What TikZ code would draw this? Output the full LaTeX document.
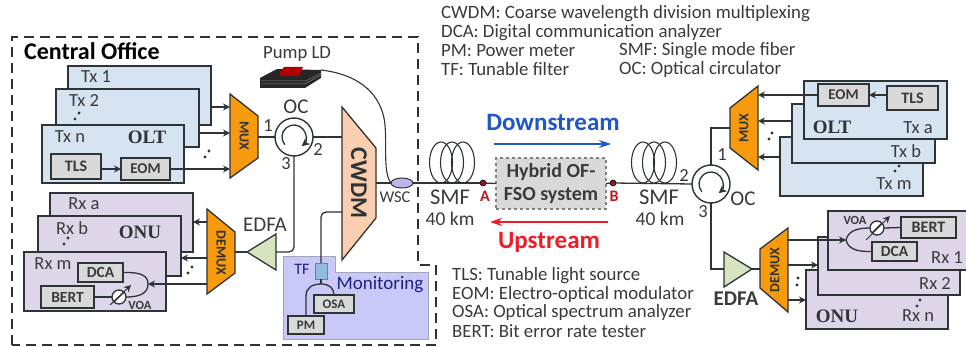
\documentclass[tikz,border=0pt]{standalone}
\usepackage{fontspec}
\setmainfont{Carlito}
\newfontfamily\olt{Liberation Serif}
\usetikzlibrary{arrows.meta,shapes.geometric}
\definecolor{ink}{HTML}{2E3336}
\definecolor{txt}{HTML}{3A3A3A}
\definecolor{txf}{HTML}{D6E3F0}
\definecolor{rxf}{HTML}{DDD6E9}
\definecolor{gbox}{HTML}{D9D9D9}
\definecolor{mux}{HTML}{F79A0E}
\definecolor{amp}{HTML}{D6E4C0}
\definecolor{cw}{HTML}{F9CFB0}
\definecolor{mon}{HTML}{C9C9F8}
\definecolor{tff}{HTML}{8FBBE0}
\definecolor{dred}{HTML}{8E1B22}
\definecolor{dsb}{HTML}{1F56C8}
\definecolor{usr}{HTML}{EE1C24}
\tikzset{
  line/.style={draw=ink,line width=1.3pt},
  arr/.style={line,-{Stealth[length=7pt,width=7pt]}},
  card/.style={draw=ink,line width=1.4pt,anchor=north west,inner sep=0pt,outer sep=0pt},
  txcard/.style={card,fill=txf},
  rxcard/.style={card,fill=rxf},
  gb/.style={draw=ink,line width=1.4pt,fill=gbox,anchor=north west,inner sep=0pt,outer sep=0pt,text=txt,font=\fontsize{16}{16}\selectfont\bfseries},
  lab/.style={text=txt,inner sep=0pt,font=\fontsize{18.5}{18.5}\selectfont},
  leg/.style={text=txt,inner sep=0pt,anchor=west,font=\fontsize{18.8}{18.8}\selectfont},
  big/.style={text=txt,inner sep=0pt,font=\fontsize{22.5}{22.5}\selectfont},
  oltf/.style={text=ink,inner sep=0pt,font=\fontsize{19}{19}\selectfont\olt\bfseries},
  muxf/.style={draw=ink,line width=1.3pt,fill=mux},
  muxt/.style={text=ink,inner sep=0pt,font=\fontsize{14}{14}\selectfont\bfseries},
  ampf/.style={draw=ink,line width=1.3pt,fill=amp},
  circ/.style={circle,draw=ink,line width=1.4pt,minimum size=38pt,inner sep=0pt,outer sep=0pt},
  voa/.style={circle,draw=ink,line width=1.3pt,fill=white,minimum size=14pt,inner sep=0pt,outer sep=0pt},
  tap/.style={circle,fill=dred,draw=black,line width=.6pt,minimum size=6pt,inner sep=0pt,outer sep=0pt},
  spin/.style={line,-{Stealth[length=8pt,width=8pt]}},
  coil/.style={ellipse,draw=ink,line width=1.1pt,minimum width=23pt,minimum height=41pt,inner sep=0pt},
}
\newcommand{\dotsup}[2]{\fill[ink] (#1,#2) circle (1.7pt) ++(4,-6) circle (1.7pt);}
\begin{document}
\begin{tikzpicture}[x=1pt,y=-1pt]
\useasboundingbox (0,0) rectangle (966,347);
% Central office border
\draw[ink,line width=1.4pt,dash pattern=on 10pt off 6pt] (12,345) -- (12,37) -- (418,37) -- (418,265) -- (436,265) -- (436,345) -- cycle;
\node[inner sep=0pt,anchor=west,text=black,font=\fontsize{24}{24}\selectfont\bfseries] (co) at (24,51) {Central Office};
% legends
\node[leg] (l1) at (441,14) {CWDM: Coarse wavelength division multiplexing};
\node[leg] (l2) at (441,33) {DCA: Digital communication analyzer};
\node[leg] (l3) at (441,51) {PM: Power meter};
\node[leg] (l4) at (441,69) {TF: Tunable filter};
\node[leg] (l5) at (619,51) {SMF: Single mode fiber};
\node[leg] (l6) at (619,69) {OC: Optical circulator};
\node[leg] (l7) at (452,276) {TLS: Tunable light source};
\node[leg] (l8) at (452,294) {EOM: Electro-optical modulator};
\node[leg] (l9) at (452,312) {OSA: Optical spectrum analyzer};
\node[leg] (l10) at (452,331) {BERT: Bit error rate tester};
% Left Tx cards
\node[txcard,minimum width=143pt,minimum height=59pt] (tx1) at (68,66) {};
\node[txcard,minimum width=143pt,minimum height=58pt] (tx2) at (56,89) {};
\node[txcard,minimum width=142pt,minimum height=58pt] (txn) at (42,125) {};
\node[lab] (tx1t) at (96,77) {Tx 1};
\node[lab] (tx2t) at (84,101) {Tx 2};
\node[lab] (txnt) at (70,137) {Tx n};
\node[oltf] (oltl) at (147,137) {OLT};
\node[gb,minimum width=50pt,minimum height=25pt] (tlsl) at (51,154) {TLS};
\node[gb,minimum width=49pt,minimum height=22pt,font=\fontsize{15}{15}\selectfont\bfseries] (eoml) at (121,158) {EOM};
\draw[arr] (tlsl.east |- eoml.west) -- (eoml.west);
\dotsup{75}{119}
\dotsup{205}{157}
% MUX left
\draw[muxf] (230,94) -- (258,116) -- (258,158) -- (230,178) -- cycle;
\node[muxt,rotate=-90] (muxl) at (244,136) {MUX};
\coordinate (muxlo) at (258,137);
\coordinate (mi1) at (230,107);
\coordinate (mi2) at (230,133);
\coordinate (mi3) at (230,169);
\draw[arr] (tx1.east |- mi1) -- (mi1);
\draw[arr] (tx2.east |- mi2) -- (mi2);
\draw[arr] (eoml.east |- mi3) -- (mi3);
% OC left
\node[circ] (ocl) at (294,137) {};
\draw[spin] (284.8,144.7) arc[start angle=220,end angle=-50,radius=12pt];
\draw[line] (muxlo) -- (ocl.west);
\node[lab,font=\fontsize{21}{21}\selectfont] (ocll) at (296,107) {OC};
\node[lab] (p1l) at (268,126) {1};
\node[lab] (p2l) at (318,149) {2};
\node[lab] (p3l) at (286,164) {3};
% CWDM
\draw[draw=ink,line width=1.3pt,fill=cw] (342,107) -- (376,148) -- (376,218) -- (342,260) -- cycle;
\node[inner sep=0pt,rotate=-90,text=ink,font=\fontsize{24}{24}\selectfont\bfseries] (cwdm) at (359,183) {CWDM};
\coordinate (cwa) at (342,137);
\coordinate (cwb) at (376,183);
\coordinate (cwc) at (342,212);
\draw[line] (ocl.east) -- (cwa);
% Pump LD
\node[lab,font=\fontsize{18.7}{18.7}\selectfont] (pumpt) at (297,54) {Pump LD};
\fill[black!85] (260,78) -- (277,69) -- (321,70) -- (321,78) -- (305,88) -- (260,88) -- cycle;
\draw[gray,line width=.5pt] (261,81) -- (306,81) -- (321,73) (261,84) -- (305,84) -- (321,75);
\fill[red!70!black] (280,72) -- (284,67) -- (303,67) -- (299,76) -- (280,76) -- cycle;
\coordinate (pumpo) at (321,70);
% WSC
\node[ellipse,draw=ink,line width=1pt,fill=rxf!85!blue,minimum width=22pt,minimum height=10pt,inner sep=0pt,outer sep=0pt] (wsc) at (402,183) {};
\draw[ink,line width=1.1pt] (pumpo) .. controls (355,74) and (378,90) .. (384,118) .. controls (388,138) and (382,172) .. (wsc.west);
\node[lab,font=\fontsize{16.5}{16.5}\selectfont] (wsct) at (395,197) {WSC};
% EDFA left / DEMUX left
\draw[ampf] (276,234) -- (276,270) -- (247,252) -- cycle;
\coordinate (edfaliIn) at (276,252);
\coordinate (edfalOut) at (247,252);
\node[lab,font=\fontsize{21}{21}\selectfont] (edfalt) at (265,225) {EDFA};
\draw[line,rounded corners=5pt] (ocl.south) -- (294,252) -- (edfaliIn);
\draw[muxf] (207,209) -- (235,232) -- (235,273) -- (207,294) -- cycle;
\node[muxt,rotate=-90] (demuxl) at (221,253) {DEMUX};
\coordinate (dmo) at (235,252);
\draw[line] (edfalOut) -- (dmo);
% Rx left
\node[rxcard,minimum width=143pt,minimum height=59pt] (rxa) at (50,193) {};
\node[rxcard,minimum width=143pt,minimum height=60pt] (rxb) at (38,216) {};
\node[rxcard,minimum width=142pt,minimum height=59pt] (rxm) at (24,252) {};
\node[lab] (rxat) at (84,204) {Rx a};
\node[lab] (rxbt) at (72,228) {Rx b};
\node[lab] (rxmt) at (53,264) {Rx m};
\node[oltf] (onul) at (140,232) {ONU};
\dotsup{64}{244}
\dotsup{188}{273}
\node[gb,minimum width=45pt,minimum height=19pt,font=\fontsize{15.5}{15.5}\selectfont\bfseries] (dcal) at (78,263) {DCA};
\node[gb,minimum width=53pt,minimum height=22pt,font=\fontsize{15.5}{15.5}\selectfont\bfseries] (bertl) at (41,286) {BERT};
\coordinate (cpl) at (148,284);
\node[voa] (voal) at (119,297) {};
\draw[line] (bertl.east) -- (voal.west);
\draw[line] (dcal.east) .. controls (142,272) and (148,276) .. (cpl) .. controls (148,292) and (142,297) .. (voal.east);
\draw[line] (voal.south west) -- (voal.north east);
\draw[arr,line width=1pt] (110,305) -- (131,285);
\node[lab,font=\fontsize{12.5}{12.5}\selectfont\bfseries] (voalt) at (140,305) {VOA};
\coordinate (do1) at (207,222);
\coordinate (do2) at (207,258);
\coordinate (do3) at (207,284);
\draw[arr] (do1) -- (rxa.east |- do1);
\draw[arr] (do2) -- (rxb.east |- do2);
\draw[arr] (do3) -- (cpl);
% Monitoring
\draw[draw=gray!50!mon,line width=1pt,fill=mon] (283,257) -- (335,257) -- (335,273) -- (428,273) -- (428,339) -- (283,339) -- cycle;
\node[inner sep=0pt,text=ink!60!blue,font=\fontsize{19}{19}\selectfont] (mont) at (380,285) {Monitoring};
\node[lab,text=ink!60!blue,font=\fontsize{16}{16}\selectfont] (tft) at (302,269) {TF};
\node[draw=tff!70!black,line width=.8pt,fill=tff,minimum width=12pt,minimum height=16pt,inner sep=0pt,outer sep=0pt] (tf) at (321,271) {};
\draw[line,rounded corners=5pt] (cwc) -- (321,212) -- (tf.north);
\node[gb,minimum width=40pt,minimum height=18pt,font=\fontsize{13}{13}\selectfont\bfseries] (osa) at (314,295) {OSA};
\node[gb,minimum width=36pt,minimum height=18pt,font=\fontsize{13}{13}\selectfont\bfseries] (pm) at (288,316) {PM};
\coordinate (cpm) at (321,284);
\draw[line] (tf.south) -- (cpm);
\draw[line] (pm.north) -- (306,296) .. controls (306,288) and (312,284) .. (cpm) .. controls (329,284) and (334,288) .. (osa.north);
% Fibre coils and span
\node[tap] (A) at (483,183) {};
\node[tap] (B) at (613,183) {};
\node[draw=gray,dashed,line width=1.2pt,fill=gbox,minimum width=110pt,minimum height=51pt,inner sep=0pt,outer sep=0pt,align=center,text=txt,font=\fontsize{20}{23}\selectfont\bfseries] (fso) at (551,183.5) {Hybrid OF-\\FSO system};
\draw[line] (cwb) -- (wsc.west) (wsc.east) -- (A);
\draw[line] (A) -- (fso.west) (fso.east) -- (B);
\node[coil] (c1) at (441,162.5) {};
\node[coil] (c2) at (452,162.5) {};
\node[coil] (c3) at (463,162.5) {};
\node[coil] (c4) at (643,162.5) {};
\node[coil] (c5) at (654,162.5) {};
\node[coil] (c6) at (665,162.5) {};
\node[big] (smf1) at (450,197) {SMF};
\node[lab,font=\fontsize{19.5}{19.5}\selectfont] (km1) at (450,219) {40 km};
\node[big] (smf2) at (659,197) {SMF};
\node[lab,font=\fontsize{19.5}{19.5}\selectfont] (km2) at (660,219) {40 km};
\node[inner sep=0pt,text=usr!80!black,font=\fontsize{16}{16}\selectfont\bfseries] (At) at (485,196) {A};
\node[inner sep=0pt,text=usr!80!black,font=\fontsize{16}{16}\selectfont\bfseries] (Bt) at (614,196) {B};
\node[inner sep=0pt,text=dsb,font=\fontsize{25}{25}\selectfont\bfseries] (down) at (553,122) {Downstream};
\node[inner sep=0pt,text=usr,font=\fontsize{25}{25}\selectfont\bfseries] (up) at (549,242) {Upstream};
\coordinate (ds1) at (494,144); \coordinate (ds2) at (611,144);
\coordinate (us1) at (608,222); \coordinate (us2) at (490,222);
\draw[dsb,line width=1.3pt,-{Stealth[length=12pt,width=8pt]}] (ds1) -- (ds2);
\draw[usr,line width=1.3pt,-{Stealth[length=12pt,width=8pt]}] (us1) -- (us2);
% Right OC
\node[circ] (ocr) at (711,184) {};
\draw[spin] (701.8,191.7) arc[start angle=220,end angle=-50,radius=12pt];
\draw[line] (B) -- (ocr.west);
\node[lab,font=\fontsize{21}{21}\selectfont] (ocrl) at (743,199) {OC};
\node[lab] (p1r) at (722,155) {1};
\node[lab] (p2r) at (684,175) {2};
\node[lab] (p3r) at (703,212) {3};
% Right Tx cards
\node[txcard,minimum width=143pt,minimum height=59pt] (txm) at (780,137) {};
\node[txcard,minimum width=143pt,minimum height=59pt] (txb) at (792,104) {};
\node[txcard,minimum width=143pt,minimum height=58pt] (txa) at (804,81) {};
\node[gb,minimum width=51pt,minimum height=22pt,font=\fontsize{15}{15}\selectfont\bfseries] (eomr) at (818,84) {EOM};
\node[gb,minimum width=51pt,minimum height=24pt] (tlsr) at (887,86) {TLS};
\draw[arr] (tlsr.west |- eomr.east) -- (eomr.east);
\node[oltf] (oltr) at (832,127) {OLT};
\node[lab] (txat) at (918,128) {Tx a};
\node[lab] (txbt) at (906,151) {Tx b};
\node[lab] (txmt) at (894,184) {Tx m};
\fill[ink] (895,171) circle (1.7pt) ++(4,-5) circle (1.7pt);
\fill[ink] (769,139) circle (1.7pt) ++(3,-6) circle (1.7pt);
\draw[muxf] (758,86) -- (730,108) -- (730,148) -- (758,170) -- cycle;
\node[muxt,rotate=90] (muxr) at (744,128) {MUX};
\coordinate (mr1) at (758,95); \coordinate (mr2) at (758,121); \coordinate (mr3) at (758,157);
\draw[arr] (eomr.west) -- (mr1);
\draw[arr] (txb.west |- mr2) -- (mr2);
\draw[arr] (txm.west |- mr3) -- (mr3);
\coordinate (muxro) at (730,128);
\draw[line] (muxro) -- (711,128) -- (ocr.north);
% Right EDFA / DEMUX
\draw[ampf] (724,252) -- (724,287) -- (752,269) -- cycle;
\coordinate (edfarIn) at (724,269); \coordinate (edfarOut) at (752,269);
\draw[line] (ocr.south) -- (711,269) -- (edfarIn);
\node[inner sep=0pt,text=txt,font=\fontsize{21}{21}\selectfont\bfseries] (edfart) at (736,299) {EDFA};
\draw[muxf] (760,249) -- (788,228) -- (788,312) -- (760,288) -- cycle;
\node[muxt,rotate=90] (demuxr) at (775,270) {DEMUX};
\coordinate (dmi) at (760,269);
\draw[line] (edfarOut) -- (dmi);
% Right Rx cards
\node[rxcard,minimum width=142pt,minimum height=59pt] (rxn) at (806,270) {};
\node[rxcard,minimum width=142pt,minimum height=58pt] (rx2) at (818,237) {};
\node[rxcard,minimum width=142pt,minimum height=59pt] (rx1) at (828,211) {};
\node[gb,minimum width=55pt,minimum height=21pt] (bertr) at (901,217) {BERT};
\node[gb,minimum width=45pt,minimum height=19pt,font=\fontsize{15.5}{15.5}\selectfont\bfseries] (dcar) at (872,242) {DCA};
\node[lab] (rx1t) at (947,258) {Rx 1};
\node[lab] (rx2t) at (935,283) {Rx 2};
\node[lab] (rxnt) at (918,316) {Rx n};
\node[oltf] (onur) at (837,316) {ONU};
\fill[ink] (917,306) circle (1.7pt) ++(3,-6) circle (1.7pt);
\fill[ink] (797,285) circle (1.7pt) ++(1,-7) circle (1.7pt);
\coordinate (cpr) at (846,240);
\node[voa] (voar) at (877,228) {};
\draw[line] (bertr.west) -- (voar.east);
\draw[line] (voar.west) .. controls (855,228) and (848,232) .. (cpr) .. controls (848,248) and (855,252) .. (dcar.west);
\draw[line] (voar.south west) -- (voar.north east);
\draw[arr,line width=1pt] (866,240) -- (890,216);
\node[lab,font=\fontsize{12.5}{12.5}\selectfont\bfseries] (voart) at (855,220) {VOA};
\coordinate (de1) at (788,240); \coordinate (de2) at (788,265); \coordinate (de3) at (788,300);
\draw[arr] (de1) -- (cpr);
\draw[arr] (de2) -- (rx2.west |- de2);
\draw[arr] (de3) -- (rxn.west |- de3);
\end{tikzpicture}
\end{document}
